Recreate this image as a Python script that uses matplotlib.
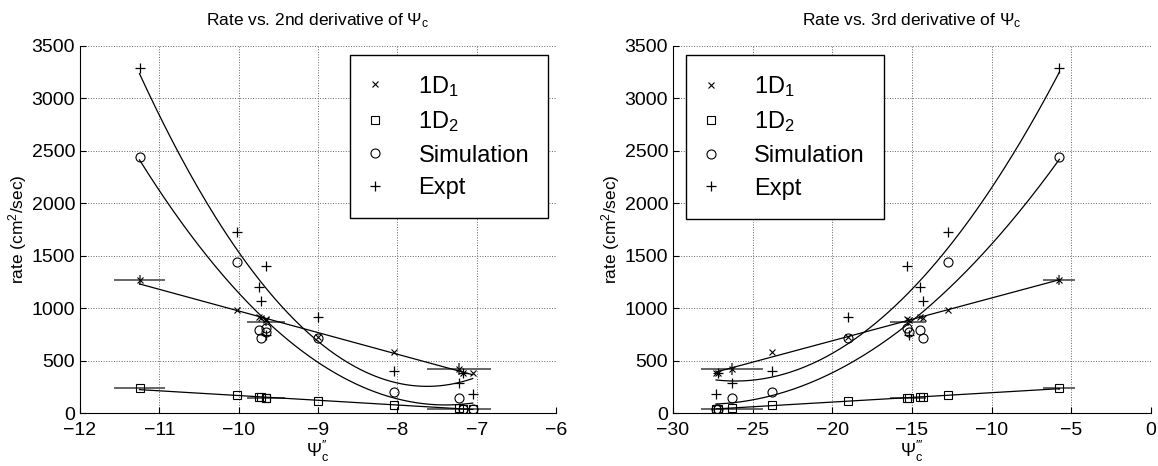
import numpy as np
import matplotlib
matplotlib.use("Agg")
import matplotlib.pyplot as plt

# one entry per case: 2nd / 3rd derivative of Psi_c and the four rates
psi2 = [-11.25, -10.02, -9.75, -9.72, -9.66, -9.65, -9.0, -8.04, -7.22, -7.17, -7.05]
psi3 = [-5.75, -12.74, -14.48, -14.32, -15.32, -15.2, -19.0, -23.8, -26.28, -27.2, -27.3]
rate_1d1 = [1265, 981, 914, 905, 898, 890, 728, 577, 415, 385, 380]
rate_1d2 = [236, 170, 150, 150, 145, 145, 117, 77, 45, 40, 38]
rate_sim = [2440, 1444, 790, 715, 808, 775, 720, 197, 143, 35, 35]
rate_expt = [3290, 1722, 1203, 1070, 1400, 745, 920, 402, 282, 385, 180]

# reference cases drawn with error bars
err_psi2 = [-11.25, -9.66, -7.22]
err_psi2_half = [0.32, 0.24, 0.40]
err_psi3 = [-5.75, -15.25, -26.28]
err_psi3_half = [1.0, 1.1, 1.95]
err_1d1 = [1270, 865, 420]
err_1d1_half = [50, 40, 55]
err_1d2 = [236, 140, 40]
err_1d2_half = [12, 10, 10]

plt.rcParams['font.family'] = ['Liberation Sans', 'DejaVu Sans']
plt.rcParams['mathtext.fontset'] = 'custom'
plt.rcParams['mathtext.rm'] = 'Liberation Sans'
plt.rcParams['mathtext.it'] = 'Liberation Sans:italic'
plt.rcParams['mathtext.bf'] = 'Liberation Sans:bold'


def draw_panel(ax, x, ex, ex_half, title, xlabel, xlim, xticks, legend_loc, legend_anchor):
    x = np.asarray(x, dtype=float)
    xs = np.linspace(x.min(), x.max(), 200)

    # fitted curves: linear for the 1D models, quadratic for simulation / experiment
    for vals, deg in [(rate_1d1, 1), (rate_1d2, 1), (rate_sim, 2), (rate_expt, 2)]:
        p = np.polyfit(x, vals, deg)
        ax.plot(xs, np.polyval(p, xs), color='black', lw=0.9, zorder=3)

    ax.errorbar(ex, err_1d1, xerr=ex_half, yerr=err_1d1_half, fmt='none',
                ecolor='0.35', elinewidth=1.3, capsize=0, zorder=2)
    ax.errorbar(ex, err_1d2, xerr=ex_half, yerr=err_1d2_half, fmt='none',
                ecolor='0.35', elinewidth=1.3, capsize=0, zorder=2)

    ax.plot(x, rate_1d1, 'x', color='black', ms=4.5, mew=0.8, label='1D$_1$', zorder=4)
    ax.plot(x, rate_1d2, 's', color='black', mfc='none', ms=5.5, mew=0.8, label='1D$_2$', zorder=4)
    ax.plot(x, rate_sim, 'o', color='black', mfc='none', ms=6.5, mew=0.8, label='Simulation', zorder=4)
    ax.plot(x, rate_expt, '+', color='black', ms=7, mew=0.9, label='Expt', zorder=4)

    ax.set_xlim(*xlim)
    ax.set_ylim(0, 3500)
    ax.set_xticks(xticks)
    ax.set_yticks(np.arange(0, 3501, 500))
    ax.grid(True, linestyle=':', color='0.4', lw=0.7)
    ax.set_axisbelow(True)
    for s in ['top', 'right']:
        ax.spines[s].set_visible(False)
    ax.tick_params(direction='in', length=4, labelsize=14)
    ax.tick_params(axis='x', pad=6.5)
    ax.xaxis.set_major_formatter(matplotlib.ticker.FuncFormatter(lambda v, _: f"{v:g}".replace('-', '\u2212')))
    ax.set_title(title, fontsize=12.5, pad=15)
    ax.set_xlabel(xlabel, fontsize=13, labelpad=0)
    ax.set_ylabel('rate (cm$^2$/sec)', fontsize=12.5, labelpad=2)

    leg = ax.legend(loc=legend_loc, bbox_to_anchor=legend_anchor, fontsize=17,
                    frameon=True, fancybox=False, framealpha=1, edgecolor='black',
                    handlelength=0.5, handletextpad=1.6, borderpad=0.8, labelspacing=0.45,
                    borderaxespad=0)
    leg.get_frame().set_linewidth(1.0)


fig = plt.figure(figsize=(11.58, 4.66), dpi=100)
ax1 = fig.add_axes([80 / 1158, 53 / 466, 476 / 1158, 367 / 466])
ax2 = fig.add_axes([673 / 1158, 53 / 466, 478 / 1158, 367 / 466])

draw_panel(ax1, psi2, err_psi2, err_psi2_half,
           r'Rate vs. 2nd derivative of $\Psi_{\rm c}$', r"$\Psi_{\rm c}^{\prime\prime}$",
           (-12, -6), np.arange(-12, -5, 1), 'upper right', (0.983, 0.976))
draw_panel(ax2, psi3, err_psi3, err_psi3_half,
           r'Rate vs. 3rd derivative of $\Psi_{\rm c}$', r"$\Psi_{\rm c}^{\prime\prime\prime}$",
           (-30, 0), np.arange(-30, 1, 5), 'upper left', (0.027, 0.975))

fig.savefig('out.png', dpi=100)
